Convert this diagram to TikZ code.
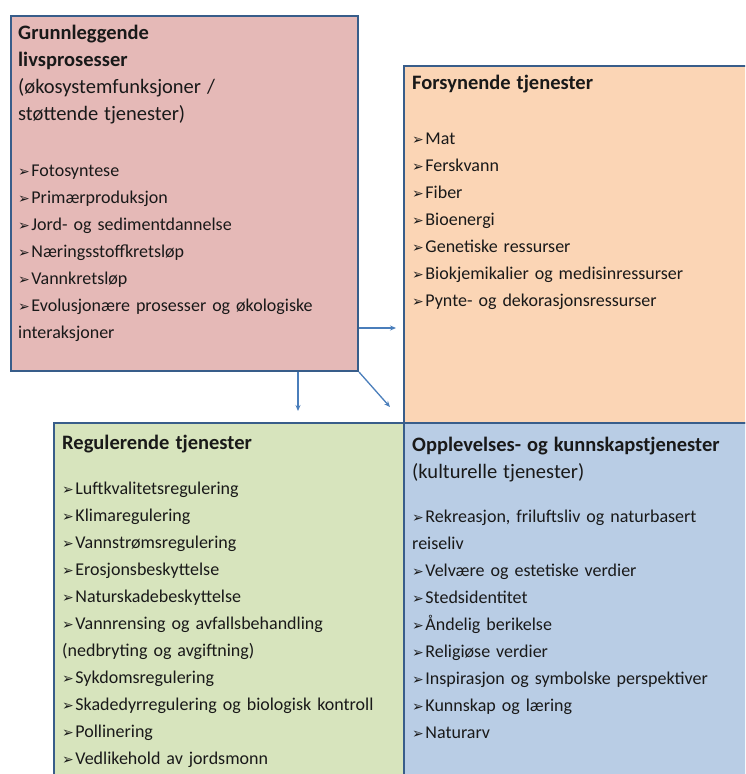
\documentclass[tikz,border=0pt]{standalone}
\usepackage{fontspec}
\setmainfont{Carlito}
\newfontfamily\pilfont{DejaVu Sans}
\usetikzlibrary{positioning,arrows.meta}
\definecolor{lrosa}{RGB}{229,185,183}
\definecolor{loransje}{RGB}{251,213,181}
\definecolor{lgronn}{RGB}{215,228,189}
\definecolor{lblaa}{RGB}{185,205,229}
\definecolor{kant}{RGB}{56,93,138}
\definecolor{pilblaa}{RGB}{74,126,187}
\newcommand{\pil}{{\pilfont\fontsize{14}{10}\selectfont ➢}\kern1.5pt}
\newcommand{\tittel}{\fontsize{20.5}{27}\selectfont\bfseries}
\newcommand{\undertittel}{\fontsize{20.5}{27}\selectfont}

\begin{document}
\begin{tikzpicture}[x=1pt,y=-1pt,
    boks/.style={draw=kant,line width=1.5pt,rectangle,inner sep=0pt,anchor=north west},
    liste/.style={anchor=base west,inner sep=0pt,text width=#1,align=left,
      font=\fontsize{18}{27}\selectfont,text=black!90},
    pil/.style={draw=pilblaa,line width=1.3pt,-{Stealth[length=6pt,width=5pt]}}]
  \fill[white] (0,0) rectangle (745,774);
  \clip (0,0) rectangle (745,774);
  % boksene
  \node[boks,fill=loransje,minimum width=360pt,minimum height=357pt] (forsyn) at (403,65) {};
  \node[boks,fill=lgronn,minimum width=350pt,minimum height=370pt] (regul) at (53,422) {};
  \node[boks,fill=lblaa,minimum width=360pt,minimum height=370pt] (kultur) at (403,422) {};
  \node[boks,fill=lrosa,line width=2pt,minimum width=347pt,minimum height=355pt] (livs) at (10,15) {};
  % tekst
  \node[liste=335pt] (livstekst) at (18,39) {%
    {\tittel Grunnleggende\\ livsprosesser}\\
    {\undertittel (økosystemfunksjoner /\\ støttende tjenester)}\\[29pt]
    \pil Fotosyntese\\ \pil Primærproduksjon\\ \pil Jord- og sedimentdannelse\\
    \pil Næringsstoffkretsløp\\ \pil Vannkretsløp\\
    \pil Evolusjonære prosesser og økologiske\\ interaksjoner};
  \node[liste=330pt] (forsyntekst) at (412,89) {%
    {\tittel Forsynende tjenester}\\[28pt]
    \pil Mat\\ \pil Ferskvann\\ \pil Fiber\\ \pil Bioenergi\\ \pil Genetiske ressurser\\
    \pil Biokjemikalier og medisinressurser\\ \pil Pynte- og dekorasjonsressurser};
  \node[liste=340pt] (regultekst) at (62,449) {%
    {\tittel Regulerende tjenester}\\[18pt]
    \pil Luftkvalitetsregulering\\ \pil Klimaregulering\\ \pil Vannstrømsregulering\\
    \pil Erosjonsbeskyttelse\\ \pil Naturskadebeskyttelse\\
    \pil Vannrensing og avfallsbehandling\\ (nedbryting og avgiftning)\\
    \pil Sykdomsregulering\\ \pil Skadedyrregulering og biologisk kontroll\\
    \pil Pollinering\\ \pil Vedlikehold av jordsmonn};
  \node[liste=335pt] (kulturtekst) at (412,451) {%
    {\tittel Opplevelses- og kunnskapstjenester}\\
    {\undertittel (kulturelle tjenester)}\\[17pt]
    \pil Rekreasjon, friluftsliv og naturbasert\\ reiseliv\\
    \pil Velvære og estetiske verdier\\ \pil Stedsidentitet\\ \pil Åndelig berikelse\\
    \pil Religiøse verdier\\ \pil Inspirasjon og symbolske perspektiver\\
    \pil Kunnskap og læring\\ \pil Naturarv};
  % pilene
  \coordinate (pilH) at (396,328);
  \coordinate (pilN) at (298,411);
  \coordinate (pilD) at (390,407);
  \draw[pil] (pilH -| livs.east) -- (pilH);
  \draw[pil] (pilN |- livs.south) -- (pilN);
  \draw[pil] (livs.south east) -- (pilD);
\end{tikzpicture}
\end{document}
